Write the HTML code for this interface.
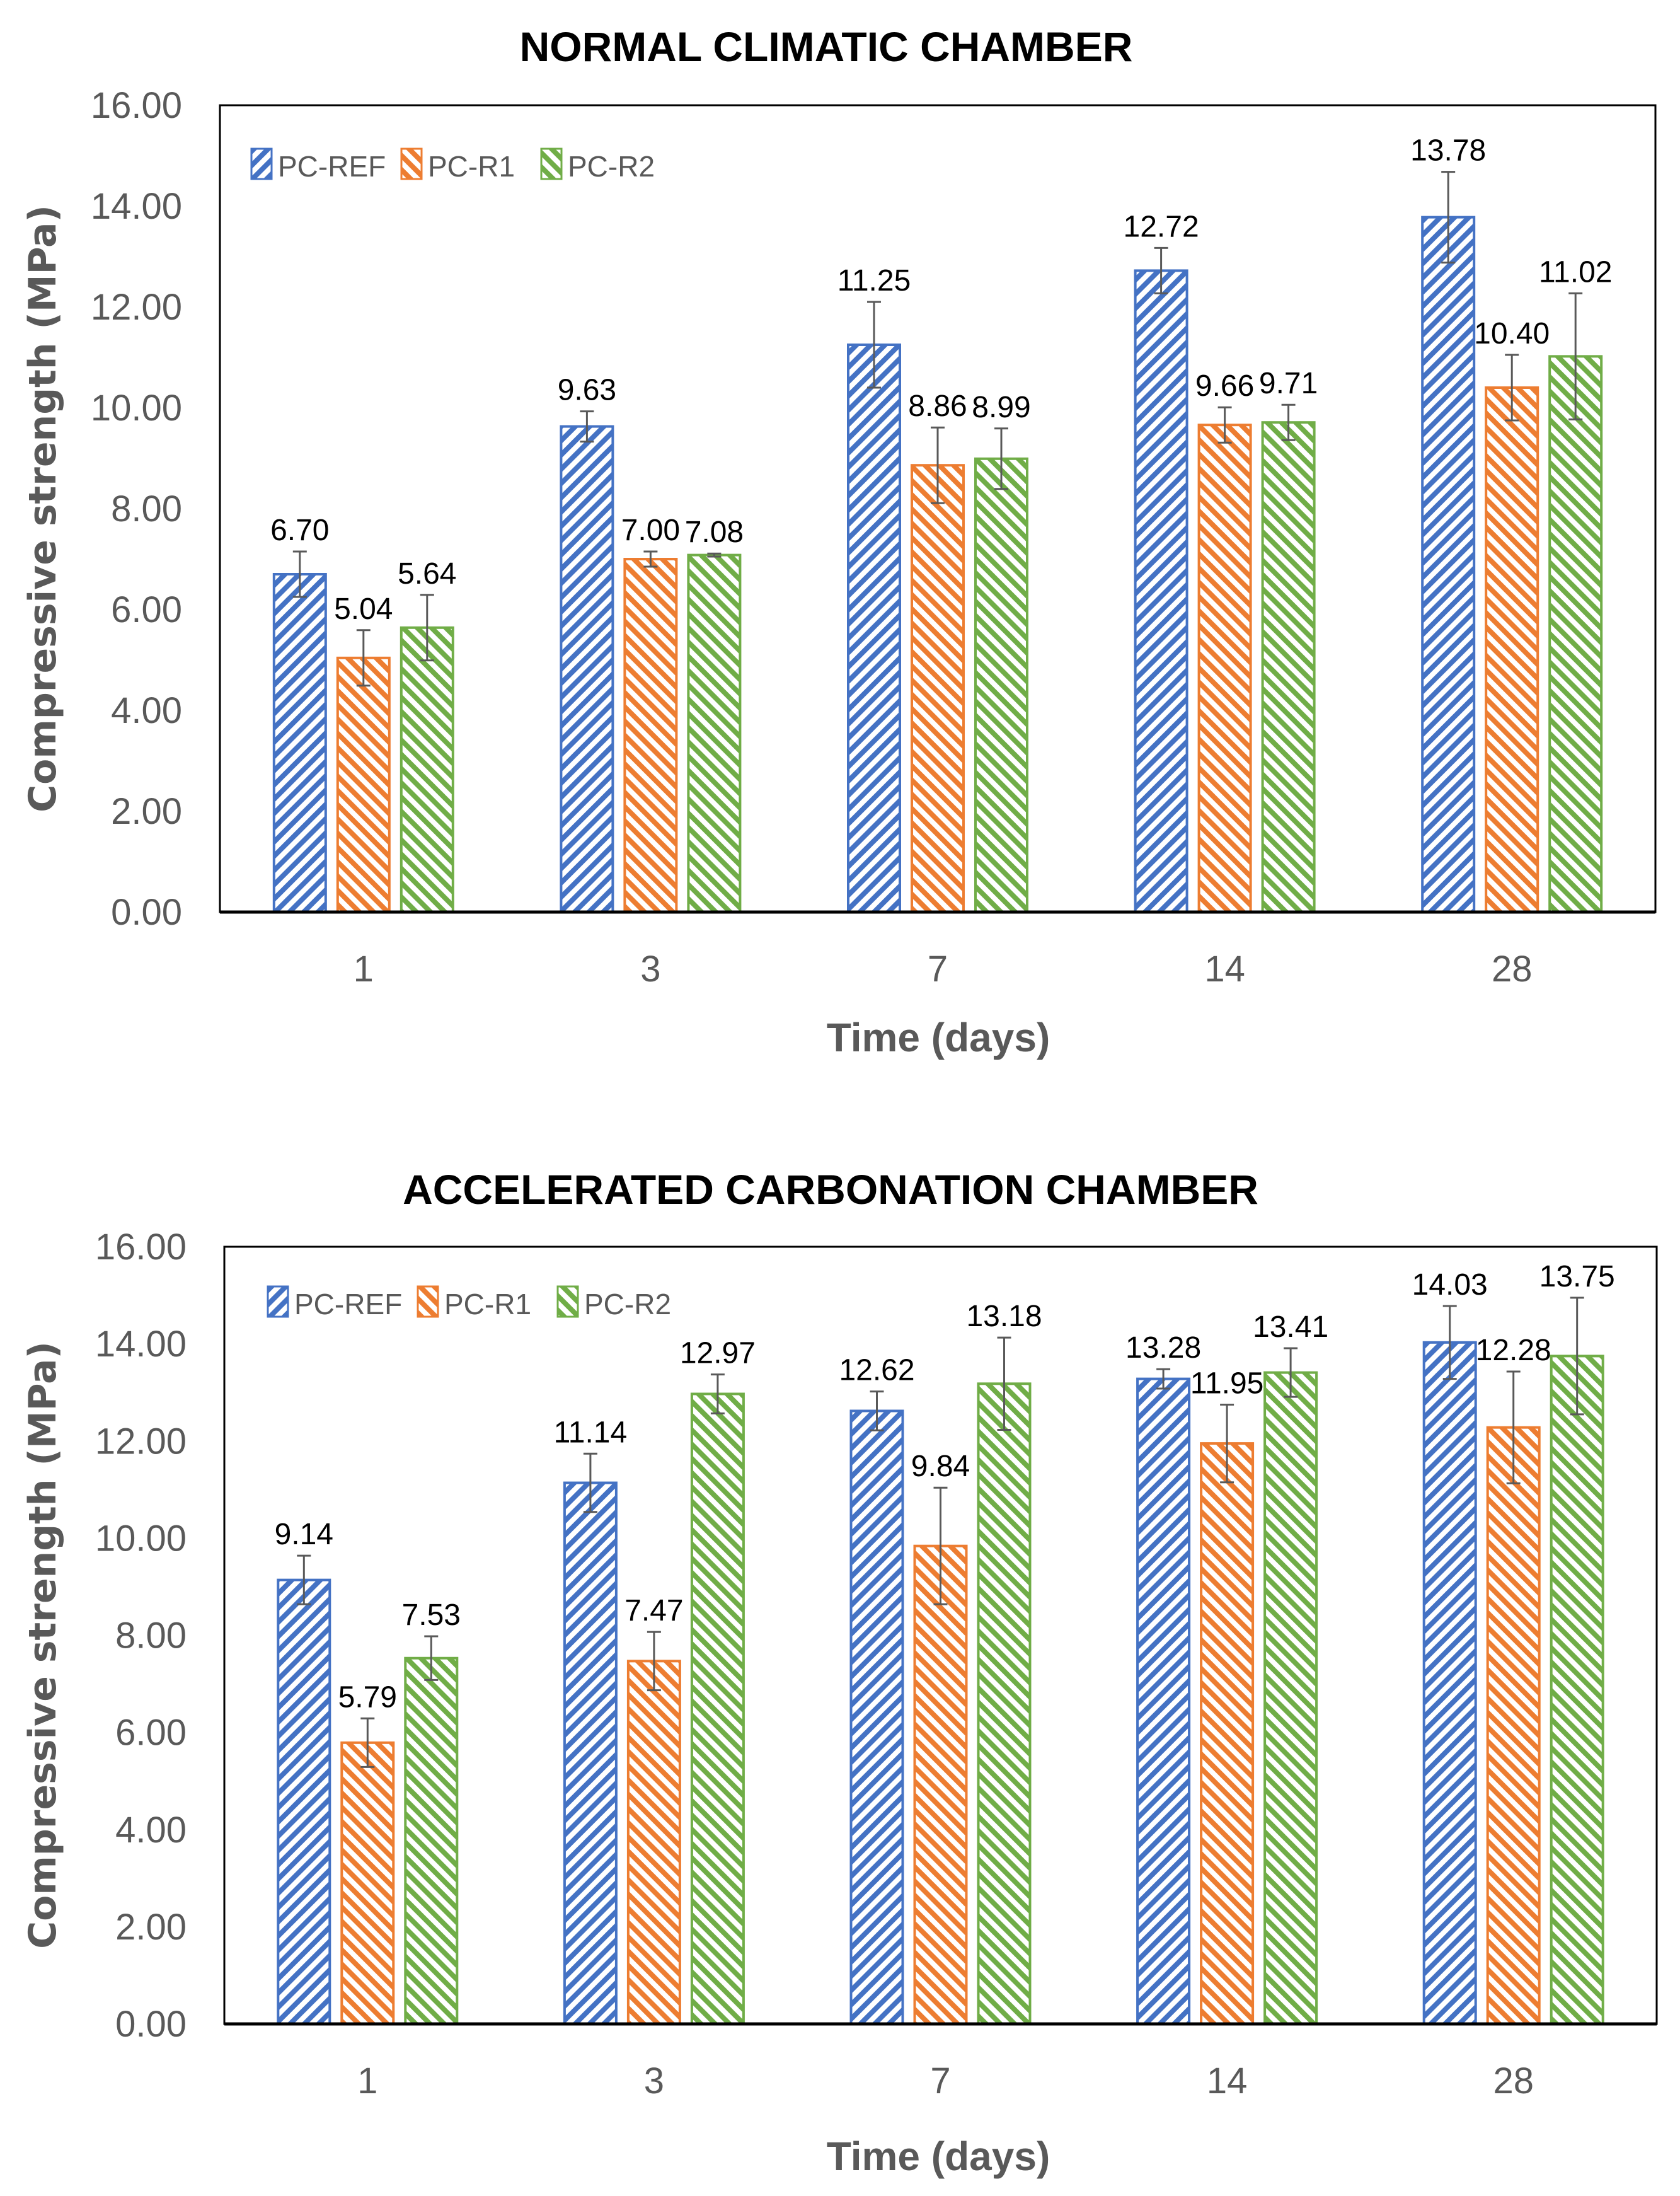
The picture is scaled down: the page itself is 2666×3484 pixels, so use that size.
<!DOCTYPE html>
<html><head><meta charset="utf-8">
<style>
html,body{margin:0;padding:0;background:#fff;}
svg{display:block;}
text{font-family:"Liberation Sans Narrow","Liberation Sans",sans-serif;}
</style></head>
<body>
<svg id="fig" width="2666" height="3484" viewBox="0 0 2666 3484" xmlns="http://www.w3.org/2000/svg">
<defs>
<pattern id="hatch-blue" patternUnits="userSpaceOnUse" width="16" height="16" patternTransform="rotate(45)">
<rect width="16" height="16" fill="#fff"/><rect width="8" height="16" fill="#4472C4"/></pattern>
<pattern id="hatch-orange" patternUnits="userSpaceOnUse" width="16" height="16" patternTransform="rotate(-45)">
<rect width="16" height="16" fill="#fff"/><rect width="8" height="16" fill="#ED7D31"/></pattern>
<pattern id="hatch-green" patternUnits="userSpaceOnUse" width="16" height="16" patternTransform="rotate(-45)">
<rect width="16" height="16" fill="#fff"/><rect width="8" height="16" fill="#70AD47"/></pattern>
</defs>
</svg>
<script>
const categories = ["1","3","7","14","28"];
const seriesNames = ["PC-REF","PC-R1","PC-R2"];
const yTicks = [0,2,4,6,8,10,12,14,16];
const normalRef = [6.70,9.63,11.25,12.72,13.78];
const normalR1 = [5.04,7.00,8.86,9.66,10.40];
const normalR2 = [5.64,7.08,8.99,9.71,11.02];
const normalRefErr = [0.45,0.30,0.85,0.45,0.90];
const normalR1Err = [0.55,0.15,0.75,0.35,0.65];
const normalR2Err = [0.65,0.03,0.60,0.35,1.25];
const carbRef = [9.14,11.14,12.62,13.28,14.03];
const carbR1 = [5.79,7.47,9.84,11.95,12.28];
const carbR2 = [7.53,12.97,13.18,13.41,13.75];
const carbRefErr = [0.50,0.60,0.40,0.20,0.75];
const carbR1Err = [0.50,0.60,1.20,0.80,1.15];
const carbR2Err = [0.45,0.40,0.95,0.50,1.20];

const NS="http://www.w3.org/2000/svg";
const svg=document.getElementById('fig');
const fills=["url(#hatch-blue)","url(#hatch-orange)","url(#hatch-green)"];
const strokes=["#4472C4","#ED7D31","#70AD47"];
const keys=["ref","r1","r2"];
function mk(tag,attrs,parent){const e=document.createElementNS(NS,tag);for(const k in attrs)e.setAttribute(k,attrs[k]);(parent||svg).appendChild(e);return e;}

function drawChart(cfg){
  const g=mk('g',{});
  
  
  const L=cfg.left,R=cfg.right,T=cfg.top,B=cfg.bottom;
  const y=v=>B-(v/16)*(B-T);
  const step=(R-L)/categories.length;
  const xc=i=>L+step*(i+0.5);
  const bw=82, off=101;
  const t=mk('text',{x:cfg.titleX,y:cfg.titleY,'text-anchor':'middle','font-size':66,'font-weight':'bold',fill:'#000'},g);
  t.textContent=cfg.title;
  
  
  yTicks.forEach(v=>{
    const tx=mk('text',{x:L-60,y:y(v)+20,'text-anchor':'end','font-size':58,fill:'#595959'},g);
    tx.textContent=v.toFixed(2);
    
    
  });
  const vals=[cfg.ref,cfg.r1,cfg.r2], errs=[cfg.refErr,cfg.r1Err,cfg.r2Err];
  categories.forEach((c,i)=>{
    for(let s=0;s<3;s++){
      const cx=xc(i)+(s-1)*off, v=vals[s][i], e=errs[s][i];
      const r=mk('rect',{x:cx-bw/2,y:y(v),width:bw,height:B-y(v),fill:fills[s],stroke:strokes[s],'stroke-width':4},g);
      
      
      const eb=mk('g',{stroke:'#595959','stroke-width':3},g);
      
      
      mk('line',{x1:cx,x2:cx,y1:y(v+e),y2:y(v-e)},eb);
      mk('line',{x1:cx-11,x2:cx+11,y1:y(v+e),y2:y(v+e)},eb);
      mk('line',{x1:cx-11,x2:cx+11,y1:y(v-e),y2:y(v-e)},eb);
      const lb=mk('text',{x:cx,y:y(v+e)-18,'text-anchor':'middle','font-size':48,fill:'#000'},g);
      lb.textContent=v.toFixed(2);
      
      
    }
    const xl=mk('text',{x:xc(i),y:B+110,'text-anchor':'middle','font-size':58,fill:'#595959'},g);
    xl.textContent=c;
    
    
  });
  const fr=mk('rect',{x:L,y:T,width:R-L,height:B-T,fill:'none',stroke:'#000','stroke-width':3},g);
  
  
  const ax=mk('line',{x1:L,x2:R,y1:B,y2:B,stroke:'#000','stroke-width':5},g);
  
  
  const xt=mk('text',{x:cfg.xTitleX,y:cfg.xTitleY,'text-anchor':'middle','font-size':64,'font-weight':'bold',fill:'#595959'},g);
  xt.textContent='Time (days)';
  
  
  const yt=mk('text',{x:0,y:0,'text-anchor':'middle','font-size':60,'font-weight':'bold',fill:'#595959',style:'font-family:"DejaVu Sans",sans-serif',transform:`translate(${88},${cfg.yTitleY}) rotate(-90)`},g);
  yt.textContent='Compressive  strength  (MPa)';
  
  
  const lg=mk('g',{},g);
  
  
  let lx=cfg.legX;
  const lw=[238,222,200];
  seriesNames.forEach((n,s)=>{
    const sw=mk('rect',{x:lx,y:cfg.legY-44,width:32,height:48,fill:fills[s],stroke:strokes[s],'stroke-width':3},lg);
    
    
    const lt=mk('text',{x:lx+42,y:cfg.legY,'font-size':46,fill:'#595959'},lg);
    lt.textContent=n;
    
    
    lx+=lw[s];
  });
}
drawChart({name:'chart-normal-climatic',title:'NORMAL CLIMATIC CHAMBER',left:349,right:2627,top:167,bottom:1447,titleX:1311,titleY:97,xTitleX:1489,xTitleY:1668,yTitleY:807,legX:399,legY:280,
  ref:normalRef,r1:normalR1,r2:normalR2,refErr:normalRefErr,r1Err:normalR1Err,r2Err:normalR2Err});
drawChart({name:'chart-accelerated-carbonation',title:'ACCELERATED  CARBONATION CHAMBER',left:356,right:2629,top:1978,bottom:3211,titleX:1318,titleY:1910,xTitleX:1489,xTitleY:3443,yTitleY:2610,legX:425,legY:2085,
  ref:carbRef,r1:carbR1,r2:carbR2,refErr:carbRefErr,r1Err:carbR1Err,r2Err:carbR2Err});
</script>
</body></html>
